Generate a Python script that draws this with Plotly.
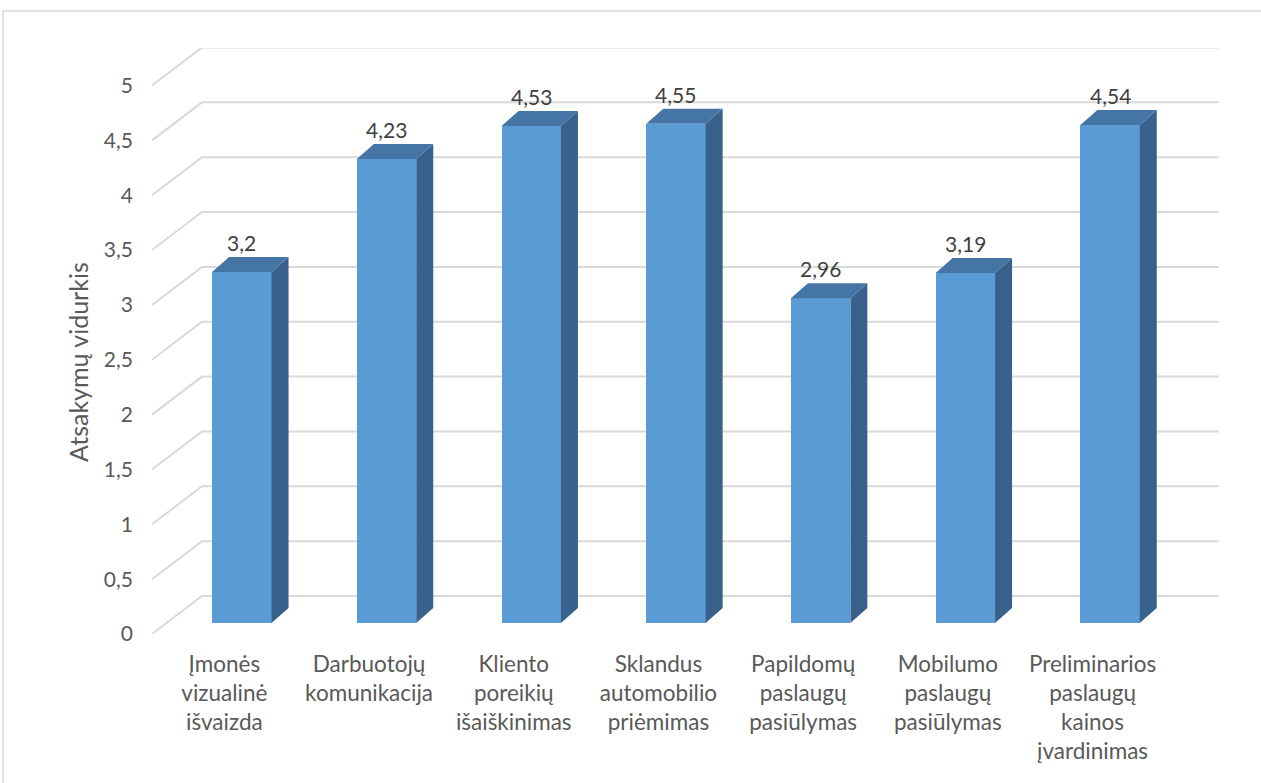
import plotly.graph_objects as go

# ---- data -------------------------------------------------------------
categories = [
    "Įmonės<br>vizualinė<br>išvaizda",
    "Darbuotojų<br>komunikacija",
    "Kliento<br>poreikių<br>išaiškinimas",
    "Sklandus<br>automobilio<br>priėmimas",
    "Papildomų<br>paslaugų<br>pasiūlymas",
    "Mobilumo<br>paslaugų<br>pasiūlymas",
    "Preliminarios<br>paslaugų<br>kainos<br>įvardinimas",
]
values = [3.2, 4.23, 4.53, 4.55, 2.96, 3.19, 4.54]
y_ticks = [0, 0.5, 1, 1.5, 2, 2.5, 3, 3.5, 4, 4.5, 5]
y_title = "Atsakymų vidurkis"

# ---- geometry of the pseudo-3D view ----------------------------------
W, H = 1261, 783
ML, MR, MT, MB = 152, 42, 48, 149
PX_X = 144.7          # pixels per category slot
PX_Y = 109.7          # pixels per value unit
plot_w = W - ML - MR
plot_h = H - MT - MB
x_range = [-0.5, -0.5 + plot_w / PX_X]
y_range = [0, plot_h / PX_Y]

WALL_DX, WALL_DY = 50 / PX_X, 38 / PX_Y      # front floor edge -> back wall
BAR_OX, BAR_OY = 17.5 / PX_X, 11 / PX_Y      # bar front face offset
BAR_W = 59.4 / PX_X
DEPTH_DX, DEPTH_DY = 17 / PX_X, 15 / PX_Y    # bar depth

FONT = "Lato"
C_FRONT, C_TOP, C_SIDE = "#5B9BD5", "#4475A5", "#38628C"
C_GRID = "#D9D9D9"
C_TEXT = "#595959"

fig = go.Figure()

# back wall gridlines with the slanted left wall segments (behind the columns)
for t in y_ticks:
    fig.add_shape(type="path", xref="x", yref="y", layer="below",
                  path=(f"M{x_range[0]},{t} "
                        f"L{x_range[0] + WALL_DX},{t + WALL_DY} "
                        f"L{x_range[1]},{t + WALL_DY}"),
                  line=dict(color=C_GRID, width=2))

# side and top faces of the columns
sx, sy, tx, ty = [], [], [], []
for i, v in enumerate(values):
    xl = i + BAR_OX - BAR_W / 2
    xr = i + BAR_OX + BAR_W / 2
    top = BAR_OY + v
    sx += [xr, xr + DEPTH_DX, xr + DEPTH_DX, xr, xr, None]
    sy += [BAR_OY, BAR_OY + DEPTH_DY, top + DEPTH_DY, top, BAR_OY, None]
    tx += [xl, xr, xr + DEPTH_DX, xl + DEPTH_DX, xl, None]
    ty += [top, top, top + DEPTH_DY, top + DEPTH_DY, top, None]
fig.add_trace(go.Scatter(x=sx, y=sy, mode="lines", fill="toself",
                         fillcolor=C_SIDE, line=dict(width=0, color=C_SIDE),
                         hoverinfo="skip", showlegend=False))
fig.add_trace(go.Scatter(x=tx, y=ty, mode="lines", fill="toself",
                         fillcolor=C_TOP, line=dict(width=0, color=C_TOP),
                         hoverinfo="skip", showlegend=False))

# front faces
fig.add_trace(go.Bar(x=[i + BAR_OX for i in range(len(values))], y=values,
                     base=BAR_OY, width=BAR_W,
                     marker=dict(color=C_FRONT, line=dict(width=0)),
                     showlegend=False))

# value labels above each column
for i, v in enumerate(values):
    fig.add_annotation(x=i + BAR_OX, y=BAR_OY + v + DEPTH_DY,
                       text=f"{v:g}".replace(".", ","),
                       showarrow=False, xanchor="center", yanchor="bottom",
                       font=dict(family=FONT, size=21, color="#404040"))

# axis title
fig.add_annotation(xref="paper", yref="paper",
                   x=(78 - ML) / plot_w, y=(H - MB - 362) / plot_h,
                   xanchor="center", yanchor="middle",
                   text=y_title, textangle=-90, showarrow=False,
                   font=dict(family=FONT, size=25, color=C_TEXT))

# chart area border
fig.add_shape(type="rect", xref="paper", yref="paper",
              x0=(3 - ML) / plot_w, x1=(W + 5 - ML) / plot_w,
              y0=(H - MB - (H + 5)) / plot_h, y1=(H - MB - 11) / plot_h,
              line=dict(color=C_GRID, width=1.5), layer="below")

fig.update_layout(
    width=W, height=H,
    margin=dict(l=ML, r=MR, t=MT, b=MB),
    paper_bgcolor="white", plot_bgcolor="white",
    separators=", ",
    bargap=0,
    xaxis=dict(range=x_range, tickvals=list(range(len(categories))),
               ticktext=categories, showgrid=False, zeroline=False,
               showline=False, ticks="", ticklabelstandoff=14,
               tickfont=dict(family=FONT, size=22.5, color=C_TEXT)),
    yaxis=dict(range=y_range, tickvals=y_ticks, showgrid=False,
               zeroline=False, showline=False, ticks="",
               ticklabelstandoff=18,
               tickfont=dict(family=FONT, size=21, color=C_TEXT)),
)

fig.write_html("out.html")
